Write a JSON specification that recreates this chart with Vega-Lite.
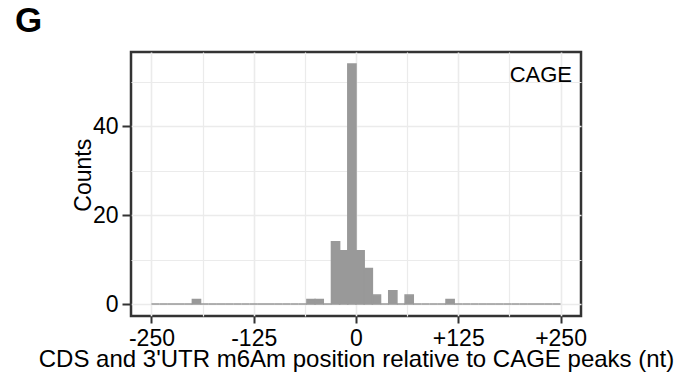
{
  "$schema": "https://vega.github.io/schema/vega-lite/v6.json",
  "width": 450,
  "height": 264,
  "autosize": "none",
  "padding": {"left": 131, "top": 52, "right": 96, "bottom": 66},
  "background": "white",
  "title": {"text": "G", "anchor": "start", "frame": "group", "fontSize": 35, "fontWeight": "bold", "font": "Liberation Sans", "color": "black", "baseline": "alphabetic", "offset": 17, "dx": -116, "dy": 32},
  "config": {"view": {"stroke": "#333333", "strokeWidth": 2.5}, "font": "Liberation Sans"},
  "data": {"values": [
    {"bin_start": -250, "bin_end": -240, "count": 0},
    {"bin_start": -240, "bin_end": -230, "count": 0},
    {"bin_start": -230, "bin_end": -220, "count": 0},
    {"bin_start": -220, "bin_end": -210, "count": 0},
    {"bin_start": -210, "bin_end": -200, "count": 0},
    {"bin_start": -200, "bin_end": -190, "count": 1},
    {"bin_start": -190, "bin_end": -180, "count": 0},
    {"bin_start": -180, "bin_end": -170, "count": 0},
    {"bin_start": -170, "bin_end": -160, "count": 0},
    {"bin_start": -160, "bin_end": -150, "count": 0},
    {"bin_start": -150, "bin_end": -140, "count": 0},
    {"bin_start": -140, "bin_end": -130, "count": 0},
    {"bin_start": -130, "bin_end": -120, "count": 0},
    {"bin_start": -120, "bin_end": -110, "count": 0},
    {"bin_start": -110, "bin_end": -100, "count": 0},
    {"bin_start": -100, "bin_end": -90, "count": 0},
    {"bin_start": -90, "bin_end": -80, "count": 0},
    {"bin_start": -80, "bin_end": -70, "count": 0},
    {"bin_start": -70, "bin_end": -60, "count": 0},
    {"bin_start": -60, "bin_end": -50, "count": 1},
    {"bin_start": -50, "bin_end": -40, "count": 1},
    {"bin_start": -40, "bin_end": -30, "count": 0},
    {"bin_start": -30, "bin_end": -20, "count": 14},
    {"bin_start": -20, "bin_end": -10, "count": 12},
    {"bin_start": -10, "bin_end": 0, "count": 54},
    {"bin_start": 0, "bin_end": 10, "count": 12},
    {"bin_start": 10, "bin_end": 20, "count": 8},
    {"bin_start": 20, "bin_end": 30, "count": 2},
    {"bin_start": 30, "bin_end": 40, "count": 0},
    {"bin_start": 40, "bin_end": 50, "count": 3},
    {"bin_start": 50, "bin_end": 60, "count": 0},
    {"bin_start": 60, "bin_end": 70, "count": 2},
    {"bin_start": 70, "bin_end": 80, "count": 0},
    {"bin_start": 80, "bin_end": 90, "count": 0},
    {"bin_start": 90, "bin_end": 100, "count": 0},
    {"bin_start": 100, "bin_end": 110, "count": 0},
    {"bin_start": 110, "bin_end": 120, "count": 1},
    {"bin_start": 120, "bin_end": 130, "count": 0},
    {"bin_start": 130, "bin_end": 140, "count": 0},
    {"bin_start": 140, "bin_end": 150, "count": 0},
    {"bin_start": 150, "bin_end": 160, "count": 0},
    {"bin_start": 160, "bin_end": 170, "count": 0},
    {"bin_start": 170, "bin_end": 180, "count": 0},
    {"bin_start": 180, "bin_end": 190, "count": 0},
    {"bin_start": 190, "bin_end": 200, "count": 0},
    {"bin_start": 200, "bin_end": 210, "count": 0},
    {"bin_start": 210, "bin_end": 220, "count": 0},
    {"bin_start": 220, "bin_end": 230, "count": 0},
    {"bin_start": 230, "bin_end": 240, "count": 0},
    {"bin_start": 240, "bin_end": 250, "count": 0}
  ]},
  "layer": [
    {
      "mark": {"type": "rect", "color": "#999999", "stroke": "#999999", "strokeWidth": 1.5},
      "encoding": {
        "x": {
          "field": "bin_start", "type": "quantitative",
          "scale": {"domain": [-275, 275], "nice": false, "zero": false},
          "axis": {
            "values": [-250, -187.5, -125, -62.5, 0, 62.5, 125, 187.5, 250],
            "labelExpr": "datum.value % 125 != 0 ? '' : (datum.value > 0 ? '+' + datum.value : (datum.value < 0 ? '-' + abs(datum.value) : '0'))",
            "domain": false,
            "grid": true,
            "gridColor": "#EBEBEB",
            "gridWidth": {"condition": {"test": "datum.value % 125 != 0", "value": 1.2}, "value": 1.6},
            "ticks": true,
            "tickColor": "#333333",
            "tickWidth": 2,
            "tickSize": 7,
            "tickOpacity": {"condition": {"test": "datum.value % 125 != 0", "value": 0}, "value": 1},
            "labelFontSize": 23,
            "labelColor": "black",
            "labelBaseline": "alphabetic",
            "labelPadding": 22,
            "labelFlush": false,
            "labelOverlap": false,
            "title": "CDS and 3'UTR m6Am position relative to CAGE peaks (nt)",
            "titleFontSize": 24,
            "titleFontWeight": "normal",
            "titleColor": "black",
            "titleBaseline": "alphabetic",
            "titleAnchor": "middle",
            "titleY": 50.7
          }
        },
        "x2": {"field": "bin_end"},
        "y": {
          "field": "count", "type": "quantitative",
          "scale": {"domain": [-2.7, 56.7], "nice": false, "zero": false},
          "axis": {
            "values": [0, 10, 20, 30, 40, 50],
            "labelExpr": "datum.value % 20 != 0 ? '' : datum.label",
            "domain": false,
            "grid": true,
            "gridColor": "#EBEBEB",
            "gridWidth": {"condition": {"test": "datum.value % 20 != 0", "value": 1.2}, "value": 1.6},
            "ticks": true,
            "tickColor": "#333333",
            "tickWidth": 2,
            "tickSize": 9,
            "tickOpacity": {"condition": {"test": "datum.value % 20 != 0", "value": 0}, "value": 1},
            "labelFontSize": 23,
            "labelColor": "black",
            "labelBaseline": "middle",
            "labelPadding": 4,
            "labelOverlap": false,
            "title": "Counts",
            "titleFontSize": 23,
            "titleFontWeight": "normal",
            "titleColor": "black",
            "titleAngle": 270,
            "titleBaseline": "alphabetic",
            "titleAlign": "center",
            "titleX": -40.5,
            "titleY": 122.7
          }
        },
        "y2": {"datum": 0}
      }
    },
    {
      "data": {"values": [{"label": "CAGE"}]},
      "mark": {"type": "text", "align": "right", "baseline": "alphabetic", "fontSize": 22, "color": "black", "font": "Liberation Sans"},
      "encoding": {
        "x": {"datum": 264},
        "y": {"datum": 50},
        "text": {"field": "label"}
      }
    }
  ]
}
